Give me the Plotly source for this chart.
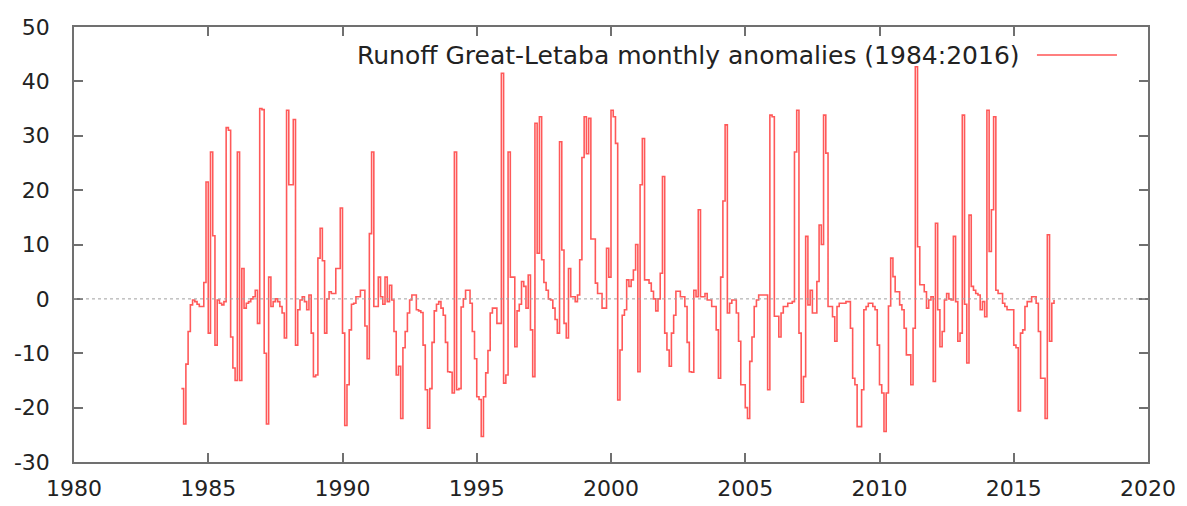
import numpy as np
import plotly.graph_objects as go

start_year = 1984
y1984 = [-16.5, -23, -12, -6, -1.1, -0.2, -0.5, -1, -1.4, -1.4, 3, 21.5]
y1985 = [-6.3, 27, 11.6, -8.5, -0.2, -0.8, -1.1, -0.5, 31.5, 31, -7, -12.7]
y1986 = [-15, 27, -15, 5.6, -1.7, -0.8, -0.5, 0, 0.4, 1.6, -4.5, 35]
y1987 = [34.8, -10, -23, 4, -1.4, -0.5, 0, -0.5, -1.4, -2.6, -7.2, 34.7]
y1988 = [21, 21, 33, -8.5, -2, -0.2, 0.4, -0.5, -2, 0.7, -6.3, -14.3]
y1989 = [-14, 7.5, 13, 7, -6.3, 0, 1.3, 1, 1, 5.6, 5.6, 16.7]
y1990 = [-6.3, -23.3, -15.8, -5.7, -1, -0.8, 0.4, 0.4, 1.6, 1.6, -5, -11]
y1991 = [12, 27, -1.4, -1.4, 4, 0.4, -1, 4, -0.5, 2.5, -0.2, -6]
y1992 = [-14, -12.4, -22, -9, -6, -2.6, -0.2, 0.7, 0.7, -2, -2.2, -2.5]
y1993 = [-8.5, -16.7, -23.8, -16.5, -8, -2.2, -1, -0.5, -1.7, -3, -8, -13.4]
y1994 = [-13.5, -17.3, 27, -16.7, -16.5, -1.5, 0, 1.6, 1.6, -0.8, -6, -11]
y1995 = [-18, -18.5, -25.3, -18, -13.6, -9.5, -2.6, -1.7, -1.7, -4.5, -4.5, 41.5]
y1996 = [-15.5, -14, 27, 4, 4, -8.8, -2.2, -1, 3.2, 2.3, -1.7, 4.4]
y1997 = [-5.7, -14.3, 32.3, 8.4, 33.5, 7.2, 3, 1.6, 0, -0.2, -1.7, -3.8]
y1998 = [-6.3, 28.9, 9, -4.5, -7.2, 5.6, 0.4, 0.4, -0.5, 0.7, 7.2, 26]
y1999 = [33.5, 26.7, 33.2, 11, 11, 2.9, 1, 1, -1.7, -1.7, 9.3, 4]
y2000 = [34.7, 33.5, 28.6, -18.6, -9.4, -3, -2, 3.5, 2.3, 3.5, 5.3, 10]
y2001 = [-13.4, 21, 29.5, 3.5, 3.5, 2.9, 1.4, 0, -2.2, 0, 4.7, 22.5]
y2002 = [-6.3, -9.4, -12.4, -6.3, -3, 1.4, 1.4, 0.4, 0.4, -1.4, -8, -13.4]
y2003 = [-13.5, 1.6, 0.4, 16.4, 0.4, 0.4, 1, -0.2, -0.2, -1.4, -1.4, -5.7]
y2004 = [-14.6, 4, 18, 32, -2.6, -0.8, -0.2, -0.2, -2.6, -7.8, -15.8, -15.8]
y2005 = [-20, -22, -11.5, -7, -1.4, -0.2, 0.7, 0.7, 0.7, 0.7, -16.7, 33.8]
y2006 = [33.5, -3.2, -3.2, -7, -2.6, -1.4, -1.4, -0.8, -0.8, -0.5, 27, 34.7]
y2007 = [-6.3, -19, -14.3, 11.5, -1.1, 1.6, -2.6, -2.6, 3.2, 13.6, 10, 33.8]
y2008 = [26.8, -1.4, -1.4, -3.3, -7.8, -1.4, -0.8, -0.8, -0.8, -0.5, -0.5, -5.4]
y2009 = [-14.6, -15.8, -23.5, -23.5, -16.7, -2, -1.4, -0.8, -0.8, -1.4, -2, -8.5]
y2010 = [-15.8, -17.3, -24.4, -17.3, -1.3, 7.5, 4.1, 1.3, 1.3, -1.1, -2, -5.4]
y2011 = [-10.3, -10.3, -15.8, -5.4, 42.7, 9.6, 2.6, 2.6, 1.3, -1.7, -0.2, 0.4]
y2012 = [-15.2, 13.9, -2, -8.8, -6, -0.2, 1, 0, -0.2, 11.5, -0.5, -7.8]
y2013 = [-6.3, 33.8, -1, -11.8, 15.4, 2.3, 1.6, 1, 0.7, -2, -0.5, -3.3]
y2014 = [34.7, 8.7, 16.4, 33.5, 1.6, 1, 1, -0.8, -1.4, -2, -2, -2]
y2015 = [-8.5, -9, -20.6, -6.3, -5.7, -1.4, -0.5, -0.5, 0.4, 0.4, -0.8, -6]
y2016 = [-14.6, -14.6, -22, 11.8, -7.8, -0.8, -0.2]

series_name = "Runoff Great-Letaba monthly anomalies (1984:2016)"
x_ticks = [1980, 1985, 1990, 1995, 2000, 2005, 2010, 2015, 2020]
y_ticks = [-30, -20, -10, 0, 10, 20, 30, 40, 50]
y_tick_labels = ["-30", "-20", "-10", "0", "10", "20", "30", "40", "50"]

values = (y1984 + y1985 + y1986 + y1987 + y1988 + y1989 + y1990 + y1991 + y1992
          + y1993 + y1994 + y1995 + y1996 + y1997 + y1998 + y1999 + y2000 + y2001
          + y2002 + y2003 + y2004 + y2005 + y2006 + y2007 + y2008 + y2009 + y2010
          + y2011 + y2012 + y2013 + y2014 + y2015 + y2016)
times = start_year + np.arange(len(values)) / 12.0

line_color = "rgba(255,0,0,0.65)"

fig = go.Figure()
fig.add_trace(go.Scatter(
    x=times, y=values, mode="lines",
    line=dict(color=line_color, width=1.6, shape="hv"),
    name=series_name, showlegend=False,
))

axis_common = dict(
    showgrid=False, zeroline=False, showline=True, linecolor="#707070",
    linewidth=1.5, mirror="allticks", ticks="inside", ticklen=9,
    tickwidth=1.5, tickcolor="#707070", automargin=False,
    tickfont=dict(family="DejaVu Sans", size=22, color="#222222"),
)
fig.update_xaxes(range=[1980, 2020], tickvals=x_ticks, ticklabelstandoff=6, **axis_common)
fig.update_yaxes(range=[-30, 50], tickvals=y_ticks, ticktext=y_tick_labels,
                 ticklabelstandoff=18, **axis_common)

# dotted zero line
fig.add_shape(type="line", xref="paper", yref="y", x0=0, x1=1, y0=0, y1=0,
              line=dict(color="#a0a0a0", width=1, dash="dot"))

# gnuplot-style key: text then sample line to the right
key_y = 0.9356
fig.add_annotation(xref="paper", yref="paper", x=0.883, y=key_y,
                   text=series_name, showarrow=False, xanchor="right", yanchor="middle",
                   font=dict(family="DejaVu Sans", size=25, color="#222222"))
fig.add_shape(type="line", xref="paper", yref="paper", x0=0.8966, x1=0.9711,
              y0=key_y, y1=key_y, line=dict(color="rgba(255,0,0,0.5)", width=2))

fig.update_layout(
    width=1187, height=506,
    margin=dict(l=74, r=39, t=27, b=44),
    plot_bgcolor="white", paper_bgcolor="white",
)
fig.write_html("out.html", config={"displayModeBar": False},
               post_script="document.body.style.margin='0';document.body.style.overflow='hidden';")
